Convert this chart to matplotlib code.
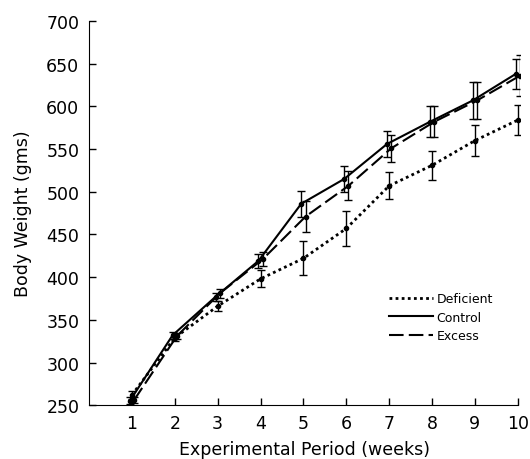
import matplotlib
matplotlib.use('Agg')
import matplotlib.pyplot as plt
from matplotlib.lines import Line2D

weeks = [1, 2, 3, 4, 5, 6, 7, 8, 9, 10]

deficient = [262, 329, 366, 398, 422, 457, 507, 531, 560, 584]
deficient_err = [5, 4, 6, 10, 20, 20, 16, 17, 18, 18]

control = [255, 332, 377, 419, 486, 515, 556, 582, 607, 638]
control_err = [4, 4, 5, 8, 15, 15, 15, 18, 22, 18]

excess = [256, 331, 381, 421, 471, 507, 551, 582, 607, 636]
excess_err = [4, 4, 5, 8, 18, 17, 16, 18, 22, 24]

series_names = ['Deficient', 'Control', 'Excess']

plt.rcParams['font.family'] = 'DejaVu Sans'

fig = plt.figure(figsize=(5.3, 4.6), dpi=100)
ax = fig.add_axes([0.168, 0.117, 0.813, 0.835])

err_style = dict(ecolor='black', elinewidth=1.0, capsize=3, capthick=1.0,
                 marker='o', markersize=3, color='black')
dotted = (0, (1, 1.2))
dashed = (0, (7, 2.5))

ax.errorbar(weeks, deficient, yerr=deficient_err, linestyle=dotted,
            linewidth=2.0, **err_style)
ax.errorbar([w - 0.05 for w in weeks], control, yerr=control_err, linestyle='-',
            linewidth=1.5, **err_style)
ax.errorbar([w + 0.05 for w in weeks], excess, yerr=excess_err, linestyle=dashed,
            linewidth=1.5, **err_style)

ax.set_xlim(0, 10.05)
ax.set_ylim(250, 700)
ax.set_xticks(weeks)
ax.set_yticks(range(250, 701, 50))
ax.spines['top'].set_visible(False)
ax.spines['right'].set_visible(False)
ax.spines['left'].set_bounds(250, 700)
ax.spines['bottom'].set_bounds(0, 10)
ax.tick_params(direction='in', length=5, width=1, labelsize=12.5, pad=7)
ax.tick_params(axis='x', pad=6)

ax.set_xlabel('Experimental Period (weeks)', fontsize=12.5, labelpad=6)
ax.set_ylabel('Body Weight (gms)', fontsize=12.5, labelpad=10)

handles = [Line2D([], [], color='black', linestyle=dotted, linewidth=2.0),
           Line2D([], [], color='black', linestyle='-', linewidth=1.5),
           Line2D([], [], color='black', linestyle=dashed, linewidth=1.5)]
ax.legend(handles, series_names, loc='center left', bbox_to_anchor=(0.696, 0.229),
          frameon=False, fontsize=9, handlelength=3.5, handletextpad=0.3,
          labelspacing=0.45, borderpad=0, borderaxespad=0)

fig.savefig('out.png', dpi=100)
